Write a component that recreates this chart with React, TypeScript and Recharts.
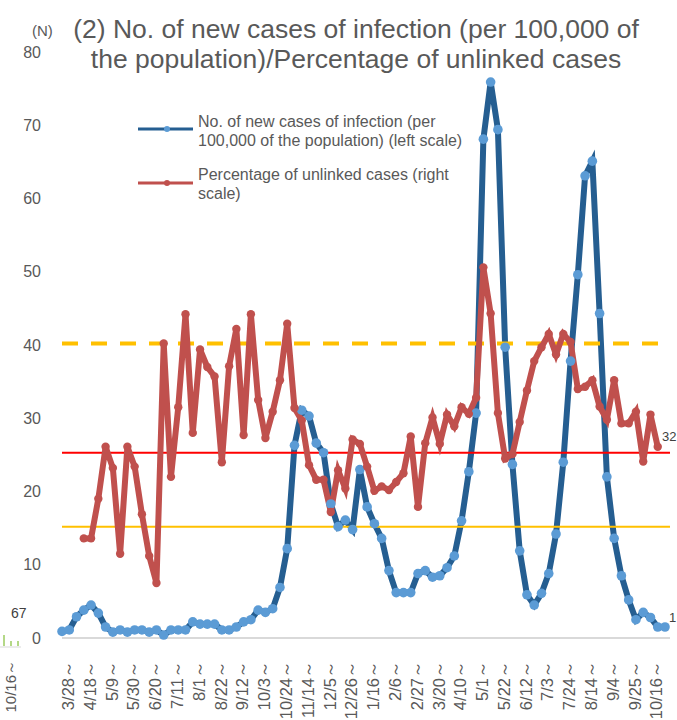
import React from 'react';
import { LineChart, Line, XAxis, YAxis, ReferenceLine, Legend } from 'recharts';

const weeks = ['3/28','4/4','4/11','4/18','4/25','5/2','5/9','5/16','5/23','5/30','6/6','6/13','6/20','6/27','7/4','7/11','7/18','7/25','8/1','8/8','8/15','8/22','8/29','9/5','9/12','9/19','9/26','10/3','10/10','10/17','10/24','10/31','11/7','11/14','11/21','11/28','12/5','12/12','12/19','12/26','1/2','1/9','1/16','1/23','1/30','2/6','2/13','2/20','2/27','3/6','3/13','3/20','3/27','4/3','4/10','4/17','4/24','5/1','5/8','5/15','5/22','5/29','6/5','6/12','6/19','6/26','7/3','7/10','7/17','7/24','7/31','8/7','8/14','8/21','8/28','9/4','9/11','9/18','9/25','10/2','10/9','10/16','10/23','10/30'];
const tickLabels = ['3/28','4/18','5/9','5/30','6/20','7/11','8/1','8/22','9/12','10/3','10/24','11/14','12/5','12/26','1/16','2/6','2/27','3/20','4/10','5/1','5/22','6/12','7/3','7/24','8/14','9/4','9/25','10/16'];
const newCases = [0.9,1.1,2.9,3.8,4.5,3.4,1.5,0.8,1.1,0.8,1.1,1.1,0.8,1.1,0.4,1.1,1.1,1.1,2.2,1.9,1.9,1.9,1.1,1.1,1.5,2.2,2.5,3.8,3.5,4.0,6.9,12.2,26.3,31.1,30.3,26.6,25.3,18.3,15.2,16.1,14.8,23.0,17.9,15.6,13.6,9.2,6.2,6.2,6.2,8.8,9.2,8.3,8.5,9.6,11.2,16.0,22.7,30.7,68.1,75.9,69.4,39.7,23.7,11.9,5.9,4.5,6.1,8.8,14.2,24.0,37.8,49.6,63.1,65.1,44.3,22.0,13.6,8.5,5.2,2.5,3.5,2.8,1.5,1.5];
const unlinked = [null,null,null,13.6,13.6,19.0,26.1,23.2,11.5,26.1,23.4,16.9,11.2,7.5,40.2,22.0,31.5,44.2,28.0,39.4,37.0,35.7,24.0,37.1,42.2,27.7,44.2,32.5,27.3,30.9,35.2,42.9,31.4,29.7,23.6,21.6,21.6,17.2,22.9,20.4,27.1,26.5,23.4,20.1,20.7,20.2,21.3,22.5,27.5,17.9,26.6,30.1,26.5,30.5,28.9,31.5,30.6,32.8,50.6,44.3,30.7,24.5,25.1,29.5,33.8,37.8,39.7,41.5,38.7,41.5,40.4,34.0,34.3,35.2,31.6,29.8,35.2,29.3,29.3,30.9,24.1,30.5,26.1,null];
const leftTicks = [0,10,20,30,40,50,60,70,80];
const refDashed = 40.2;
const refRed = 25.3;
const refYellow = 15.2;
const nameCases = 'No. of new cases of infection (per 100,000 of the population) (left scale)';
const nameUnlinked = 'Percentage of unlinked cases (right scale)';
const titleLines = ['(2) No. of new cases of infection (per 100,000 of', 'the population)/Percentage of unlinked cases'];

const rows = weeks.map((week, i) => ({ week, newCases: newCases[i], unlinked: unlinked[i] }));

const FONT = '"Liberation Sans", Arial, sans-serif';
const GREY = '#595959';

const XTick = (props: any) => {
  const { x, y, payload } = props;
  return (
    <text
      transform={`translate(${x + 12},${y + 15}) rotate(-90)`}
      textAnchor="end"
      fontFamily={FONT}
      fontSize={16.5}
      fill={GREY}
    >
      {payload.value}～
    </text>
  );
};

const LegendBox = (props: any) => (
  <div style={{ fontFamily: FONT, fontSize: 16, lineHeight: '19px', color: GREY }}>
    {(props.payload || []).map((item: any, i: number) => (
      <div key={i} style={{ position: 'relative', height: 53, paddingLeft: 60, width: 268 }}>
        <svg width={56} height={12} style={{ position: 'absolute', left: 0, top: i === 0 ? 11 : 12 }}>
          <line x1={0} x2={55} y1={6} y2={6} stroke={item.color} strokeWidth={3} />
          <circle cx={29} cy={6} r={3} fill={i === 0 ? '#5B9BD5' : item.color} />
        </svg>
        {item.value}
      </div>
    ))}
  </div>
);

const abs = (left: number, top: number): React.CSSProperties => ({
  position: 'absolute',
  left,
  top,
  fontFamily: FONT,
  color: GREY,
  whiteSpace: 'nowrap',
});

export default function App() {
  return (
    <div style={{ position: 'absolute', left: 0, top: 0, width: 677, height: 720, overflow: 'hidden', background: '#fff' }}>
      <LineChart width={677} height={720} data={rows} margin={{ top: 52, right: 7, bottom: 0, left: 32 }}>
        <XAxis
          dataKey="week"
          ticks={tickLabels}
          interval={0}
          height={82}
          tick={<XTick />}
          tickLine={false}
          axisLine={{ stroke: '#d9d9d9', strokeWidth: 2 }}
          padding={{ left: 0, right: 5 }}
        />
        <YAxis
          yAxisId="left"
          width={30}
          domain={[0, 80]}
          ticks={leftTicks}
          axisLine={false}
          tickLine={false}
          tickSize={0}
          tickMargin={21}
          tick={{ fontFamily: FONT, fontSize: 16, fill: GREY }}
        />
        <YAxis yAxisId="right" orientation="right" hide domain={[0, 80]} />
        <Line
          yAxisId="left"
          name={nameCases}
          dataKey="newCases"
          stroke="#255E91"
          strokeWidth={6}
          dot={{ r: 4.8, fill: '#5B9BD5', stroke: 'none' }}
          isAnimationActive={false}
        />
        <ReferenceLine yAxisId="left" y={refDashed} stroke="#FFC000" strokeWidth={4} strokeDasharray="16 13" />
        <ReferenceLine yAxisId="left" y={refRed} stroke="#FF0000" strokeWidth={2} />
        <ReferenceLine yAxisId="left" y={refYellow} stroke="#FFC000" strokeWidth={2} />
        <Line
          yAxisId="right"
          name={nameUnlinked}
          dataKey="unlinked"
          stroke="#C0504D"
          strokeWidth={6}
          dot={{ r: 4.2, fill: '#C0504D', stroke: 'none' }}
          isAnimationActive={false}
        />
        <Legend
          layout="vertical"
          align="center"
          verticalAlign="middle"
          content={<LegendBox />}
          wrapperStyle={{ left: 138, top: 112, width: 340 }}
        />
      </LineChart>

      <div style={{ ...abs(0, 14), width: 712, textAlign: 'center', fontSize: 26.5, lineHeight: '30px' }}>
        {titleLines.map((t) => <div key={t}>{t}</div>)}
      </div>
      <div style={{ ...abs(32, 22), fontSize: 15 }}>(N)</div>
      <div style={{ ...abs(11, 605), fontSize: 14, color: '#404040' }}>67</div>
      <div style={{ ...abs(662, 429), fontSize: 13, color: '#404040' }}>32</div>
      <div style={{ ...abs(669, 610), fontSize: 13, color: '#404040' }}>1</div>
      <svg width={24} height={14} style={{ position: 'absolute', left: 0, top: 634 }}>
        <line x1={4} x2={4} y1={1} y2={12} stroke="#9BCB5F" strokeWidth={1.5} />
        <line x1={11} x2={11} y1={7} y2={12} stroke="#9BCB5F" strokeWidth={1.5} />
        <line x1={18} x2={18} y1={7} y2={12} stroke="#9BCB5F" strokeWidth={1.5} />
        <line x1={0} x2={21} y1={13} y2={13} stroke="#d9d9d9" strokeWidth={1} />
      </svg>
      <div style={{ ...abs(2, 660), fontSize: 15, transform: 'rotate(-90deg) translateX(-100%)', transformOrigin: '0 0' }}>10/16～</div>
    </div>
  );
}
